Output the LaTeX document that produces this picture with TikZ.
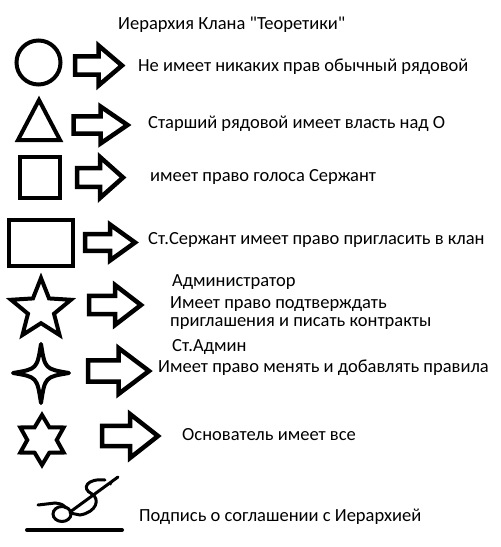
\documentclass[tikz,border=0pt]{standalone}
\usepackage{fontspec}
\setmainfont{Carlito}[Ligatures=TeXOff]
\usepackage{tikz}
\usetikzlibrary{shapes.geometric}

\tikzset{
  blockarrow/.pic={
    \draw[line width=4.5pt, line join=miter]
      (-0.5,-0.23) -- (0,-0.23) -- (0,-0.5) -- (0.5,0) -- (0,0.5) -- (0,0.23) -- (-0.5,0.23) -- cycle;
  }
}

\begin{document}
\begin{tikzpicture}[
  x=1pt, y=-1pt,
  shapeline/.style={draw, line width=4pt, line join=miter},
  lbl/.style={anchor=base west, inner sep=0pt, font=\fontsize{18.5}{22}\selectfont}
]
\useasboundingbox (0,0) rectangle (501,547);
\node[lbl] (title) at (118,29) {Иерархия Клана "Теоретики"};
% ranks
\node[shapeline, circle, minimum size=44pt, inner sep=0pt] (rank1) at (38.5,62.5) {};
\draw[shapeline] (39,100) -- (60,140) -- (18,140) -- cycle;
\node[shapeline, rectangle, minimum width=40pt, minimum height=41pt, inner sep=0pt] (rank3) at (40,177.5) {};
\node[shapeline, rectangle, minimum width=64pt, minimum height=46pt, inner sep=0pt] (rank4) at (41,243) {};
\node[shapeline, star, star points=5, star point ratio=2.3, minimum size=63pt, inner sep=0pt] (rank5) at (41,309.5) {};
\draw[shapeline, line join=round] (41,344) .. controls (45,369) .. (69,373) .. controls (45,377) .. (41,403)
  .. controls (37,377) .. (13,373) .. controls (37,369) .. (41,344) -- cycle;
\node[shapeline, star, star points=6, star point ratio=1.7, minimum size=50pt, inner sep=0pt] (rank7) at (42,440) {};
% arrows
\pic[xscale=47, yscale=40] (arr1) at (98.5,65.5) {blockarrow};
\pic[xscale=54, yscale=37] (arr2) at (100.5,125) {blockarrow};
\pic[xscale=46, yscale=41] (arr3) at (100,177.5) {blockarrow};
\pic[xscale=50, yscale=36] (arr4) at (110,242.5) {blockarrow};
\pic[xscale=52, yscale=40] (arr5) at (115,305) {blockarrow};
\pic[xscale=61, yscale=46] (arr6) at (118.5,371) {blockarrow};
\pic[xscale=56, yscale=44] (arr7) at (130,436) {blockarrow};
% texts
\node[lbl] (txt1) at (138,71.5) {Не имеет никаких прав обычный рядовой};
\node[lbl] (txt2) at (148,128.5) {Старший рядовой имеет власть над О};
\node[lbl] (txt3) at (150,181.5) {имеет право голоса Сержант};
\node[lbl] (txt4) at (148,244) {Ст.Сержант имеет право пригласить в клан};
\node[lbl] (txt5a) at (172,286.5) {Администратор};
\node[lbl] (txt5b) at (170,308) {Имеет право подтверждать};
\node[lbl] (txt5c) at (170,326.5) {приглашения и писать контракты};
\node[lbl] (txt6a) at (172,351.5) {Ст.Админ};
\node[lbl] (txt6b) at (158,372.5) {Имеет право менять и добавлять правила};
\node[lbl] (txt7) at (182,440.5) {Основатель имеет все};
\node[lbl] (txt8) at (139,521.5) {Подпись о соглашении с Иерархией};
% signature
\draw[line width=4pt, line cap=round] (27,530) -- (122,530);
\draw[line width=3pt, line cap=round] (38,505) -- (55,503) .. controls (62,504) .. (66,508);
\draw[line width=3pt] (62,514) ellipse (9pt and 7.5pt);
\draw[line width=3pt, line cap=round] (70,512) -- (118,477);
\draw[line width=2pt] (110,485) -- (113,480);
\draw[line width=3pt, line cap=round] (105,480) .. controls (88,478) and (80,488) .. (92,494)
  .. controls (100,499) and (97,512) .. (80,515) -- (70,513);
\end{tikzpicture}
\end{document}
